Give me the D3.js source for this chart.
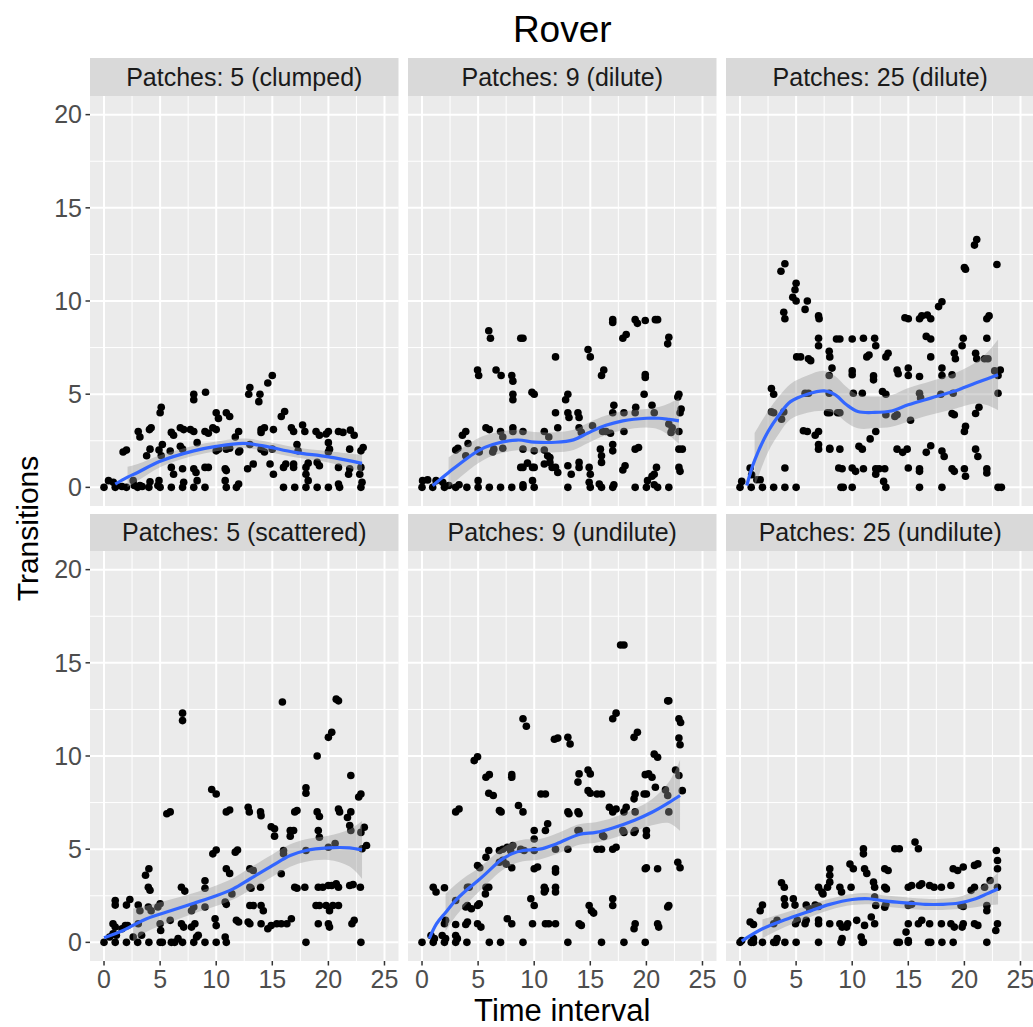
<!DOCTYPE html>
<html>
<head>
<meta charset="utf-8">
<script src="https://cdn.jsdelivr.net/npm/d3@7"></script>
<style>
  body { margin: 0; background: #fff; }
  text { font-family: "Liberation Sans", Arial, sans-serif; }
</style>
</head>
<body>
<svg id="chart" width="1033" height="1027"></svg>
<script>
// facet labels, in reading order
var panelTitles = ["Patches: 5 (clumped)", "Patches: 9 (dilute)", "Patches: 25 (dilute)",
                   "Patches: 5 (scattered)", "Patches: 9 (undilute)", "Patches: 25 (undilute)"];
var xTicks = [0, 5, 10, 15, 20, 25];
var yTicks = [0, 5, 10, 15, 20];
var xMinor = [2.5, 7.5, 12.5, 17.5, 22.5];
var yMinor = [2.5, 7.5, 12.5, 17.5];

// jittered points [time interval, transitions]
var ptsClumped5 = [[0,0],[0.4,0.36],[0.83,0.27],[1,0],[1.1,0.1],[1.7,1.9],[2,2],[2,0],[2.6,0.36],[3,0],[3.2,0.1],[3.05,3],[3.2,2.7],[4,0],[4.1,0.3],[3.8,1.7],[4.1,2.05],[4.05,3.1],[4.2,3.2],[5,0],[4.9,0.36],[5,4],[5.1,4.3],[4.9,2],[5.2,2.3],[5.1,1.7],[6,0],[6,1.07],[6.2,0.7],[5.9,1.95],[6,2.95],[6.2,2.8],[7,0],[7.1,0.27],[7,1],[6.8,3.2],[7.1,3.1],[6.8,2.2],[7,2.05],[8,0],[8.3,0.36],[8,1],[8.2,0.8],[8,5],[8,4.7],[7.7,3.1],[8,3],[8.3,2.4],[9,0],[9.05,5.1],[9,3],[9.3,2.9],[9,1.07],[9.3,1.07],[9.7,3.2],[10,3.1],[10,4],[10.2,3.7],[10,1.96],[10.2,2.05],[10.9,4],[11.2,3.8],[10.8,1],[10.9,0.9],[10.9,0],[10.8,0.36],[10.9,2.05],[11.2,2.1],[11.8,0],[12,0.18],[12,3],[11.7,2.7],[12,1.9],[12.1,1.96],[12.8,1],[13.3,1.25],[13,5.36],[12.9,5],[13.9,5],[13.8,4.6],[13,2.3],[14,3.1],[14.3,3.2],[14,2.95],[14,2.05],[14.3,1.9],[15,6],[14.6,5.6],[14.8,1.25],[15.1,0.7],[15.1,3.1],[15,2.05],[16,0],[16,1.07],[16.2,1.25],[15.8,3.8],[16.1,4.07],[16.7,3.2],[16.9,3],[17,0],[16.9,1.25],[16.9,1.07],[17.2,2.3],[17.3,1.96],[17.7,3.35],[17.9,3],[18,0],[18,1.07],[18.2,1.3],[18,0.7],[18.2,0.36],[18.9,3],[19.2,2.8],[19,0],[19,1.34],[19.2,1.16],[20,3],[19.8,2.86],[20,2.4],[20.1,2.05],[20,1.9],[20,0],[20.9,3],[21.3,2.95],[21,0],[20.9,0.18],[20.9,1.07],[21.96,3.07],[22.3,2.8],[21.9,2.05],[21.8,0.7],[21.9,1],[22.9,0],[23,0.27],[23.1,2.14],[22.9,1.96],[22.9,1.07],[22.8,0.7],[1.6,0.05],[2.7,0.1],[3.4,0.05],[4.8,0.1]];

var ptsDilute9 = [[0,0],[0.95,0],[2,0],[3,0],[4,0],[5,0],[6,0],[7,0],[8,0],[9,0],[10,0],[13,0],[15,0],[16,0],[17,0],[19,0],[20,0],[21,0],[22,0],[0.05,0.36],[0.5,0.4],[1.25,0.36],[1.85,0.27],[2.4,0.1],[3.3,0.14],[5,0.36],[9,0.14],[9.85,0.36],[14.9,0.27],[15.8,0.18],[17.1,0.14],[20.1,0.36],[20.7,0.14],[5.95,8.4],[6.1,8],[8.8,8],[9,8],[4.95,6.3],[5.05,6],[6.6,6.3],[7.05,6],[8,6],[8.1,5.7],[8.1,5],[8.1,4.7],[9.8,5.1],[10,5],[11.9,7],[13,5],[12.8,4.7],[14.8,7.4],[15,7],[16.2,6.3],[16,6],[17,9],[17,8.85],[18.2,8.2],[17.9,8],[19,9],[19.2,8.8],[19.9,8.95],[20.8,9],[21,9],[22,8.05],[21.9,7.7],[19.9,6.05],[19.9,5.9],[19.8,5],[22.9,5],[22.8,4.85],[23.1,4.2],[23,4],[17.1,4.4],[19.05,4.3],[19,4],[20.5,4.4],[20.7,4],[3.9,3],[3.6,2.8],[3.2,2.1],[3,2],[4.1,2.35],[3.9,1.7],[5,2],[5.1,1.9],[5.7,3.2],[6,3.1],[6.3,1.9],[6.4,2.05],[7,3],[7.2,2.7],[7.2,2.1],[8.1,3.2],[8.1,3],[9,3],[9,2.05],[8.8,1.07],[9,1.07],[9.4,1.3],[9.85,1.07],[10,1.07],[10,1.96],[10.9,3],[11.3,2.7],[10.9,2],[11.2,1.7],[11.4,1.6],[10.9,1.25],[11.4,1.34],[11.6,1.07],[11.9,4],[12.1,3.2],[11.9,1.07],[12.1,0.8],[13,4],[13.1,3.75],[13.9,4],[14,3.75],[13,1.16],[13.3,0.7],[14,3.2],[14.2,2.95],[14,1.34],[14,1.07],[14.9,1.07],[15,0.7],[15.2,3.3],[16.1,3],[15.9,2.05],[16,1.7],[16,1.34],[16.4,3],[16.8,2.9],[17,2.3],[17,1.96],[17,4],[18,4],[18,3],[17.9,0.93],[18.1,1.16],[19,2.05],[19.3,2.14],[20.9,1.07],[20.5,0.6],[20.7,0.7],[22,3.4],[22.3,3.2],[22.2,2.95],[22.9,3],[22.9,2.05],[23.2,2.05],[22.9,1.07],[23,0.86]];

var ptsDilute25 = [[0,0],[1,0],[2,0],[3,0],[4,0],[5,0],[9,0],[9.2,0],[10,0],[13,0],[16,0],[18,0],[23,0],[23.3,0],[0.15,0.32],[0.9,1.04],[1.04,0.68],[1.5,0.41],[1.8,0.41],[4,1.04],[2.8,5.3],[3,5],[2.8,4.05],[3,4],[3.9,4.05],[3.7,3.66],[3.65,11.6],[4,12],[3.9,9.4],[4,9.05],[5,10.95],[4.9,10.6],[4.7,10.2],[5,10],[5.8,9.55],[6,10],[5.05,7],[5.4,7],[6.1,6.9],[6.3,6.8],[5.8,5.05],[6.1,5.05],[5.65,3.04],[6,3],[6.7,2.8],[7,3],[7,2.3],[7,2.05],[7.05,9.05],[7,9.2],[7,8],[7,7.6],[7.95,7.3],[8,7],[8.2,6.4],[7.95,6.0],[7.95,5.05],[7.8,4],[8,4],[8,2.1],[8,2.05],[8.6,7.96],[8.9,7.96],[8.7,4],[8.9,4],[8.9,2.05],[8.8,1.04],[9.1,1],[10,7.96],[10,6.25],[10,6.04],[10.1,5.05],[10.9,5.05],[10.6,2.2],[10.9,2.05],[10,1.04],[10.3,0.86],[11,1],[11,8],[11.3,7],[11.5,7.1],[12,8],[12.1,7.6],[11.9,5.98],[11.9,5.77],[11.6,2.6],[12.1,3],[12.1,1],[12.1,0.71],[12.4,1],[12.9,1],[12.8,0.32],[13.2,7.2],[13,7],[12.7,5.14],[13,5],[13,3.9],[13.8,3.8],[14,3.9],[14,2.05],[14.5,1.88],[14.9,2.05],[14,6.3],[14.1,6.1],[15,6.4],[15,6],[15,1.04],[15.2,3.6],[14.7,9.1],[15,9.05],[16,9.05],[16.2,9.2],[16.7,9.25],[17,9.05],[16.6,8.1],[17,7.96],[17,7],[16,5.95],[16,5.05],[16.1,4.8],[16,1],[16,0.86],[16.6,1.88],[17,2.23],[17.7,9.7],[18,9.96],[18,6.4],[18,6],[17.9,5],[18,1.95],[18.2,1.66],[18.9,6.04],[19,5.05],[19.1,7.2],[19.2,6.9],[18.9,3.96],[19.1,3.9],[18.9,1],[19.1,0.86],[20,11.8],[20.1,11.7],[19.9,8],[19.8,7.6],[20.1,3.27],[20,3],[20,1],[20.1,0.6],[21,7.2],[21.1,6.9],[21,3.96],[21.3,4.3],[21,2.05],[21.2,1.66],[21.1,13.3],[20.9,13],[21.8,6.9],[22.1,6.9],[22,8],[22,9.05],[22.2,9.2],[22,1],[22,0.77],[22.9,11.96],[22.7,6.25],[23.2,6.3],[23,6],[23,5.05]];

var ptsScattered5 = [[0,0],[1,0],[2,0],[3,0],[4,0],[5,0],[5.2,0],[6,0],[6.3,0],[7,0],[8,0],[9,0],[10,0],[10.9,0],[18,0],[22.9,0],[0.5,0.29],[0.8,0.46],[1.1,0.38],[1.6,0.73],[1.9,0.9],[2.1,0.9],[1,2.25],[1,2],[2.3,2.3],[2,2],[0.8,1],[1,0.82],[3.05,2],[3.2,1.7],[2.6,0.29],[3.35,0.38],[3.7,3.6],[4,3.95],[3.95,2.96],[4.1,2.8],[3.95,1.9],[4.2,1.7],[3.05,1],[5,2.07],[4.8,1.9],[5,1],[5.05,0.64],[5.6,6.9],[5.9,7],[5.9,1.18],[7,12.3],[7,11.9],[6.9,2.96],[7.2,2.75],[6.9,1],[7.1,0.82],[6.6,0.2],[7.8,1.7],[8,1.9],[7.8,0.82],[8.1,1],[8.25,0.29],[8.4,0.38],[9,3.3],[9,2.9],[9,1.9],[9.6,8.2],[10,7.96],[9.7,4.75],[10,4.96],[9.9,1.27],[10,0.9],[10.8,0.29],[10.9,7],[11.2,7.1],[10.9,3.95],[11.2,3.7],[10.8,2.16],[10.9,2.04],[11.4,2.6],[11.7,4.84],[11.9,4.96],[11.8,1.18],[12,1.09],[12.85,7.25],[12.95,7],[13,3.95],[13.3,3.86],[13,2.96],[13.1,2.9],[13,1.98],[13.3,1.98],[12.85,1.09],[13,1],[13.95,7],[14,6.8],[13.95,2.96],[14,1.98],[14.2,1.7],[14,1],[14.9,6.2],[15.2,6.1],[15.2,5.7],[14.6,0.73],[14.9,0.9],[15.4,1],[15.8,1],[16.3,1],[16.7,1.27],[15.9,12.9],[16,4.93],[16,4.75],[15.8,3.68],[16.6,6],[16.9,6],[16.6,5.7],[17,7],[17.2,7.07],[17,2.96],[17.2,2.9],[17.9,2.96],[18,8.3],[18,8],[18,4.93],[19,10],[19,7],[19.2,6.75],[19.1,6],[19.2,5.64],[19.1,2.96],[19.5,2.96],[18.9,1.98],[19.2,1.98],[19.1,1],[20,11],[20.3,11.27],[20,5.1],[20.6,5.3],[20,3.05],[20.3,3.05],[20.7,3.14],[20.9,2.96],[19.8,1.98],[20.1,1.7],[20.4,1.98],[20.9,1.98],[20,1],[20.1,0.82],[20.7,13.05],[20.9,12.96],[20.9,7.16],[21,7],[21.7,6.7],[22,7],[21.9,6.27],[22,8.95],[22,6],[21.9,3.05],[22.2,3.1],[22.3,1.18],[22.1,1],[22.7,7.8],[22.9,7.96],[23.2,6.18],[22.9,5.9],[23.4,5.2],[23,5.02],[22.85,2.96]];

var ptsUndilute9 = [[0,0],[1,0],[2,0],[3,0],[4,0],[6,0],[7,0],[9,0],[13,0],[16,0],[18,0],[19.9,0],[0.8,0.37],[1.1,0.2],[1.8,0.37],[2.1,0.2],[3,0.37],[3.15,0.2],[1,2.96],[1.25,2.7],[2,2.93],[2,1],[2.1,1.18],[3,7],[3.3,7.16],[3,2.25],[3,0.96],[3.9,1.9],[4.05,1.98],[4.4,1.8],[4.05,2.96],[4.2,2.96],[4.05,1.09],[3.9,0.96],[4.65,9.75],[4.95,9.96],[4.95,4.12],[5.15,4],[4.95,1.98],[5.1,2.07],[4.95,1],[5.25,0.82],[5.7,8.86],[6,9],[5.95,8],[6.35,7.88],[5.7,4.57],[5.95,4.93],[5.7,2.96],[5.95,2.96],[5.65,2.6],[6.9,7.07],[7.05,7],[6.9,4.3],[7.2,4.4],[7.5,4.2],[6.9,4.93],[7.2,5],[7.6,5.1],[7.6,1.27],[8,1],[8,8.86],[8,9],[8.1,5.2],[7.9,4.93],[8,4],[8.6,7.34],[9,7],[9,12],[9.3,11.6],[8.8,5],[9.1,4.93],[9.7,2.34],[10,1.98],[10,6],[10,5.55],[10,4.93],[10,3.95],[9.85,1],[10.3,4.04],[10.6,7.96],[11,7.96],[10.9,2.96],[11,2.82],[10.9,2.7],[11,6],[11.2,6.36],[11,1],[11.3,1],[11.8,10.9],[12.1,10.96],[11.9,5],[11.9,3.95],[11.9,3.77],[11.9,2.96],[11.9,2.7],[11.9,1],[13,11],[13.2,10.64],[13,7],[13.1,6.9],[13.9,7],[14,6.9],[13,5],[13.9,6],[14,6],[14,1],[14.2,0.91],[13.9,8.6],[14,9.04],[14.8,9.25],[15,9.04],[14.8,8.14],[15,8],[15.6,7.96],[16,7.96],[14.9,1.98],[15.1,1.7],[15.3,1.57],[15.6,5],[16,5],[16.1,5.73],[16.2,5.68],[16.7,7.25],[17,7],[17.3,7.16],[17,2.34],[17,1.98],[17,5],[17.3,5.1],[17,12],[17.3,12.3],[17.7,15.96],[18,15.96],[17.9,6],[18,5.9],[18,7],[18.2,7.25],[18.9,11],[19.2,11.27],[18.9,7.7],[19,7.96],[19,7],[18.9,5.9],[19,6],[19,1],[18.9,0.73],[19.8,7.96],[20,7.96],[19.9,3.95],[20,4],[19.9,9],[20.2,9.04],[20.5,8.86],[20,6],[20,5.73],[20.7,10.1],[21,9.93],[20.8,8.32],[21,3.95],[21,1],[21.1,0.82],[21.9,12.96],[22,12.96],[21.7,8.18],[21.9,7.88],[22,7],[22,1.98],[21.9,1.9],[22.6,9.25],[22.9,8.95],[23.2,8.14],[22.9,12],[23.05,11.8],[22.9,10.96],[23,10.6],[22.8,4.3],[23,4]];

var ptsUndilute25 = [[0,0],[1,0],[1.2,0],[2,0],[3,0],[3.2,0],[4,0],[5,0],[7,0],[9,0],[10.9,0],[14,0],[14.2,0],[15,0],[16.8,0],[17,0],[18,0],[19,0],[22,0],[0.15,0.1],[1.2,0.2],[3.3,0.2],[9.1,0.2],[15,0.1],[0.9,1.09],[1.2,0.96],[1.8,1.7],[2,2],[3,1],[3.3,1.18],[3.7,3.2],[3.95,2.96],[3.95,2.34],[4,2],[4.75,2.34],[4.9,2],[4.95,1],[5.1,1.18],[5.8,1],[5.9,1.18],[5.9,2],[6.2,1.8],[6.7,2],[7,1.93],[7,2.96],[7.3,2.7],[7,1],[7,1.2],[8,3.95],[8,3.6],[8,3.23],[7.8,2.96],[7.4,2.6],[8,1],[8.9,2.96],[9.05,2.7],[9.9,2.96],[9.8,4.2],[10.1,3.95],[8.9,1],[9.1,0.82],[9.5,0.82],[9.6,1],[10.4,1.18],[11,5.02],[11,4.75],[11.1,3.95],[11.3,3.7],[11.9,3.23],[12,2.96],[11.7,1.36],[12,1],[10.8,0.29],[11,0.02],[11.1,0.91],[12.9,3.95],[13.2,3.86],[12.9,2.96],[13.05,2.87],[13.8,5.02],[14.2,5.02],[15.6,5.38],[15.9,5.02],[15,2.96],[15.3,3.05],[16,3.05],[16.2,3.14],[15,1],[14.8,0.55],[15.9,1],[16.2,1.18],[16.9,1],[16.9,3.05],[17.3,2.96],[17.95,2.96],[17.95,1],[18.8,3.05],[18.8,1],[19.1,0.82],[19,3.95],[19.4,3.86],[19.9,4.04],[19.9,1],[19.8,0.82],[20.6,2.79],[20.9,2.96],[20.9,1],[21.2,0.91],[20.9,4.13],[21.2,4.21],[21.8,2.96],[22,1.98],[22,1.7],[22.3,3.32],[22.85,4.93],[22.95,4.39],[22.95,3.95],[22.95,2.96],[22.95,1],[22.8,0.64],[12,2.43],[12.9,1.89],[13,2.04],[12.1,1.98],[15,1.98],[15.3,2.04],[19.7,1.98],[19.9,1.93]];

// loess fit: [x, fit, half width of band]
var fitClumped5 = [[1,0.18,0.6],[2.1,0.55,0.55],[3,0.8,0.45],[5,1.4,0.32],[8,1.96,0.27],[10,2.2,0.26],[12.4,2.36,0.26],[14.2,2.23,0.26],[17,1.88,0.27],[20,1.64,0.3],[23,1.29,0.45]];
var fitDilute9 = [[0.95,0.09,1.0],[2.37,0.8,0.8],[5,1.96,0.67],[6.3,2.3,0.6],[8.5,2.54,0.55],[10,2.43,0.54],[11.9,2.42,0.54],[13.5,2.55,0.54],[14.8,2.92,0.54],[16.4,3.33,0.52],[17.9,3.57,0.5],[20,3.71,0.5],[21.1,3.71,0.6],[22,3.65,0.85],[22.9,3.57,1.23]];
var fitDilute25 = [[0.6,0.1,1.3],[1.3,1.45,1.45],[2.5,3.0,1.1],[3.5,3.9,1.0],[4.5,4.6,0.95],[6,5.0,1.0],[7.5,5.18,1.07],[8.5,4.96,1.0],[9.5,4.43,0.95],[10.5,4.07,0.9],[12,4.02,0.85],[13.5,4.1,0.85],[15,4.43,0.9],[17,4.79,0.9],[19,5.14,0.95],[21,5.6,1.1],[22,5.82,1.4],[23,6.04,1.9]];
var fitScattered5 = [[0,0.25,1.2],[1.7,0.64,1.0],[2.6,0.92,0.9],[3.8,1.27,0.7],[6,1.71,0.6],[8,2.1,0.55],[10,2.5,0.55],[11.5,2.87,0.57],[13,3.4,0.6],[15,4.12,0.6],[16.6,4.66,0.6],[18,4.93,0.6],[20,5.07,0.65],[21.9,5.07,1.0],[23,4.96,1.55]];
var fitUndilute9 = [[0.65,0.2,1.2],[1.3,1.0,1.1],[2.1,1.6,1.0],[3,2.25,0.85],[4,2.82,0.75],[5,3.32,0.65],[6,3.86,0.6],[7,4.4,0.6],[8,4.75,0.6],[9,4.93,0.58],[10.5,5.0,0.55],[12,5.29,0.55],[14,5.79,0.55],[15.5,5.9,0.55],[17,6.14,0.55],[19,6.57,0.6],[20.5,6.98,0.7],[22,7.5,1.1],[23,7.88,1.9]];
var fitUndilute25 = [[0.15,0.07,0.6],[2,0.73,0.5],[4,1.21,0.38],[6,1.63,0.33],[8,2.04,0.3],[10,2.3,0.3],[11.5,2.34,0.3],[13,2.21,0.3],[15,2.11,0.3],[16.5,2.04,0.3],[18,2.04,0.3],[19.5,2.11,0.32],[21,2.34,0.45],[22,2.6,0.62],[23,2.88,0.85]];

var allPoints = [ptsClumped5, ptsDilute9, ptsDilute25, ptsScattered5, ptsUndilute9, ptsUndilute25];
var allFits = [fitClumped5, fitDilute9, fitDilute25, fitScattered5, fitUndilute9, fitUndilute25];

var svg = d3.select("#chart");
svg.append("rect").attr("width", 1033).attr("height", 1027).attr("fill", "white");

var left = 90, panelW = 308.5, gapX = 9.5;
var stripTop = [58, 514], stripH = [38, 37], panelTop = [96, 551], panelH = 410;

// y limits 0..20 and x limits 0..25, each with 5% padding
var x = d3.scaleLinear().domain([-1.25, 26.25]).range([0, panelW]);
var y = d3.scaleLinear().domain([-1, 21]).range([panelH, 0]);

var line = d3.line()
    .x(function(d) { return x(d[0]); })
    .y(function(d) { return y(d[1]); })
    .curve(d3.curveCatmullRom.alpha(0.5));

var band = d3.area()
    .defined(function(d) { return d[1] - d[2] >= -1e-9 && d[1] + d[2] <= 20; })
    .x(function(d) { return x(d[0]); })
    .y0(function(d) { return y(d[1] - d[2]); })
    .y1(function(d) { return y(d[1] + d[2]); })
    .curve(d3.curveCatmullRom.alpha(0.5));

panelTitles.forEach(function(title, i) {
	var row = Math.floor(i / 3), col = i % 3;
	var px = left + col * (panelW + gapX);

	var strip = svg.append("g").attr("transform", "translate(" + px + "," + stripTop[row] + ")");
	strip.append("rect")
	    .attr("width", panelW)
	    .attr("height", stripH[row])
	    .attr("fill", "#D9D9D9");
	strip.append("text")
	    .attr("x", panelW / 2)
	    .attr("y", stripH[row] / 2 + 8.7)
	    .attr("text-anchor", "middle")
	    .attr("font-size", "25px")
	    .attr("fill", "#1A1A1A")
	    .text(title);

	var g = svg.append("g").attr("transform", "translate(" + px + "," + panelTop[row] + ")");
	g.append("rect")
	    .attr("width", panelW)
	    .attr("height", panelH)
	    .attr("fill", "#EBEBEB");

	g.selectAll(".xminor").data(xMinor).enter().append("line")
	    .attr("x1", function(d) { return x(d); })
	    .attr("x2", function(d) { return x(d); })
	    .attr("y1", 0).attr("y2", panelH)
	    .attr("stroke", "white").attr("stroke-width", 1);
	g.selectAll(".yminor").data(yMinor).enter().append("line")
	    .attr("y1", function(d) { return y(d); })
	    .attr("y2", function(d) { return y(d); })
	    .attr("x1", 0).attr("x2", panelW)
	    .attr("stroke", "white").attr("stroke-width", 1);
	g.selectAll(".xmajor").data(xTicks).enter().append("line")
	    .attr("x1", function(d) { return x(d); })
	    .attr("x2", function(d) { return x(d); })
	    .attr("y1", 0).attr("y2", panelH)
	    .attr("stroke", "white").attr("stroke-width", 2);
	g.selectAll(".ymajor").data(yTicks).enter().append("line")
	    .attr("y1", function(d) { return y(d); })
	    .attr("y2", function(d) { return y(d); })
	    .attr("x1", 0).attr("x2", panelW)
	    .attr("stroke", "white").attr("stroke-width", 2);

	g.selectAll(".pt").data(allPoints[i]).enter().append("circle")
	    .attr("cx", function(d) { return x(d[0]); })
	    .attr("cy", function(d) { return y(d[1]); })
	    .attr("r", 3.8)
	    .attr("fill", "black");

	g.append("path")
	    .datum(allFits[i])
	    .attr("d", band)
	    .attr("fill", "#999999")
	    .attr("fill-opacity", 0.4);
	g.append("path")
	    .datum(allFits[i])
	    .attr("d", line)
	    .attr("fill", "none")
	    .attr("stroke", "#3366FF")
	    .attr("stroke-width", 3.2);

	if (col == 0) {
		var ya = g.append("g");
		ya.selectAll("line").data(yTicks).enter().append("line")
		    .attr("x1", -4.5).attr("x2", 0)
		    .attr("y1", function(d) { return y(d); })
		    .attr("y2", function(d) { return y(d); })
		    .attr("stroke", "#333333").attr("stroke-width", 1.5);
		ya.selectAll("text").data(yTicks).enter().append("text")
		    .attr("x", -8)
		    .attr("y", function(d) { return y(d) + 8.7; })
		    .attr("text-anchor", "end")
		    .attr("font-size", "25px")
		    .attr("fill", "#4D4D4D")
		    .text(function(d) { return d; });
	}

	if (row == 1) {
		var xa = g.append("g").attr("transform", "translate(0," + panelH + ")");
		xa.selectAll("line").data(xTicks).enter().append("line")
		    .attr("x1", function(d) { return x(d); })
		    .attr("x2", function(d) { return x(d); })
		    .attr("y1", 0).attr("y2", 4.5)
		    .attr("stroke", "#333333").attr("stroke-width", 1.5);
		xa.selectAll("text").data(xTicks).enter().append("text")
		    .attr("x", function(d) { return x(d); })
		    .attr("y", 27)
		    .attr("text-anchor", "middle")
		    .attr("font-size", "25px")
		    .attr("fill", "#4D4D4D")
		    .text(function(d) { return d; });
	}
});

var midX = left + (3 * panelW + 2 * gapX) / 2;

svg.append("text")
    .attr("x", midX)
    .attr("y", 42)
    .attr("text-anchor", "middle")
    .attr("font-size", "37px")
    .attr("fill", "black")
    .text("Rover");

svg.append("text")
    .attr("x", midX)
    .attr("y", 1021)
    .attr("text-anchor", "middle")
    .attr("font-size", "31px")
    .attr("fill", "black")
    .text("Time interval");

svg.append("text")
    .attr("transform", "translate(38," + ((panelTop[0] + panelTop[1] + panelH) / 2) + ") rotate(-90)")
    .attr("text-anchor", "middle")
    .attr("font-size", "30px")
    .attr("fill", "black")
    .text("Transitions");
</script>
</body>
</html>
